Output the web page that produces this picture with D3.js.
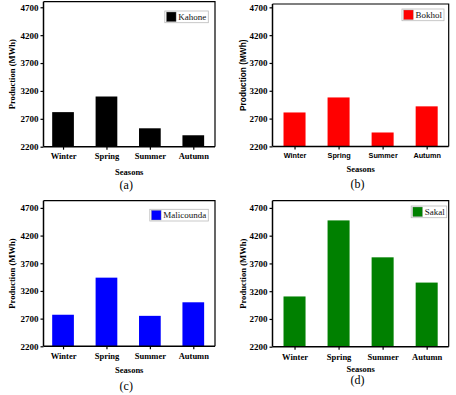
<!DOCTYPE html>
<html>
<head>
<meta charset="utf-8">
<script src="https://cdn.jsdelivr.net/npm/d3@7"></script>
<style>
  body { margin: 0; background: #fff; }
  svg { display: block; }
</style>
</head>
<body>
<div id="chart"></div>
<script>
// data
var seasons = ["Winter", "Spring", "Summer", "Autumn"];
var sites = ["Kahone", "Bokhol", "Malicounda", "Sakal"];
var kahone = [2820, 3100, 2530, 2405];
var bokhol = [2810, 3080, 2450, 2920];
var malicounda = [2770, 3440, 2750, 2995];
var sakal = [3105, 4475, 3810, 3355];
var yTicks = [2200, 2700, 3200, 3700, 4200, 4700];
var panelLabels = ["(a)", "(b)", "(c)", "(d)"];
var siteColors = ["#000000", "#ff0000", "#0000ff", "#008000"];
var seriesList = [kahone, bokhol, malicounda, sakal];

// layout of each panel (absolute pixels)
var serif = "'Liberation Serif', 'Times New Roman', serif";
var sans = "'Liberation Sans', Arial, sans-serif";
var panels = [
  {left: 43.5, right: 215, top: 1.7, bottom: 146.7, yMax: 4800, xDom: [0.55, 4.5],
   yLabelX: 11.7, tickDy: 9.5, titleDy: 25, capDy: 38.5, legR: 6.7, legT: 9.3, xFont: serif, yFont: serif},
  {left: 272.5, right: 448.7, top: 4, bottom: 146.4, yMax: 4760, xDom: [0.5, 4.5],
   yLabelX: 243, tickDy: 9.5, titleDy: 23, capDy: 37, legR: 4.7, legT: 5, xFont: sans, yFont: sans},
  {left: 43.5, right: 215, top: 200.7, bottom: 346.3, yMax: 4830, xDom: [0.55, 4.5],
   yLabelX: 12.3, tickDy: 10, titleDy: 23.7, capDy: 39.4, legR: 6.7, legT: 8.6, xFont: serif, yFont: serif},
  {left: 272.5, right: 448.7, top: 200.7, bottom: 346.7, yMax: 4830, xDom: [0.5, 4.5],
   yLabelX: 243, tickDy: 10.6, titleDy: 22, capDy: 33.5, legR: 2, legT: 5.3, xFont: serif, yFont: serif}
];

var width = 456;
var height = 395;

var svg = d3.select("#chart")
            .append("svg")
            .attr("width", width)
            .attr("height", height);

panels.forEach(function(p, i) {
  var values = seriesList[i];
  var color = siteColors[i];
  var g = svg.append("g");

  var xScale = d3.scaleLinear()
                 .domain(p.xDom)
                 .range([p.left, p.right]);
  var yScale = d3.scaleLinear()
                 .domain([2200, p.yMax])
                 .range([p.bottom, p.top]);
  var barW = xScale(1.25) - xScale(1);

  // bars
  g.selectAll(".bar")
   .data(values)
   .enter().append("rect")
   .attr("class", "bar")
   .attr("x", function(d, j) { return xScale(j + 1) - barW; })
   .attr("width", barW * 2)
   .attr("y", function(d) { return yScale(d); })
   .attr("height", function(d) { return yScale(2200) - yScale(d); })
   .attr("fill", color);

  // frame (top and right)
  g.append("path")
   .attr("d", "M" + p.left + "," + p.top + "H" + p.right + "V" + p.bottom)
   .attr("fill", "none")
   .attr("stroke", "#000")
   .attr("stroke-width", 1.2);

  // y axis
  var yAxis = d3.axisLeft(yScale)
                .tickValues(yTicks)
                .tickSize(3)
                .tickPadding(2)
                .tickFormat(d3.format("d"));
  var ya = g.append("g")
            .attr("transform", "translate(" + p.left + ",0)")
            .call(yAxis);
  ya.select(".domain").attr("stroke-width", 1.5).attr("d", "M0," + p.top + "V" + p.bottom);
  ya.selectAll(".tick line").attr("stroke-width", 1.2);
  ya.selectAll("text")
    .attr("font-family", serif)
    .attr("font-weight", "bold")
    .attr("font-size", 9)
    .attr("fill", "#000");

  // x axis
  var xAxis = d3.axisBottom(xScale)
                .tickValues([1, 2, 3, 4])
                .tickSize(3)
                .tickFormat(function(d) { return seasons[d - 1]; });
  var xa = g.append("g")
            .attr("transform", "translate(0," + p.bottom + ")")
            .call(xAxis);
  xa.select(".domain").attr("stroke-width", 1.5).attr("d", "M" + p.left + ",0H" + p.right);
  xa.selectAll(".tick line").attr("stroke-width", 1.2);
  xa.selectAll("text")
    .attr("y", p.tickDy)
    .attr("dy", "0.35em")
    .attr("font-family", p.xFont)
    .attr("font-weight", "bold")
    .attr("font-size", p.xFont === sans ? 7.3 : 8.5)
    .attr("fill", "#000");

  var cx = (p.left + p.right) / 2;
  // x title
  g.append("text")
   .text("Seasons")
   .attr("x", cx)
   .attr("y", p.bottom + p.titleDy)
   .attr("dy", "0.35em")
   .attr("text-anchor", "middle")
   .attr("font-family", serif)
   .attr("font-weight", "bold")
   .attr("font-size", 8.5);

  // panel caption
  g.append("text")
   .text(panelLabels[i])
   .attr("x", cx - 3)
   .attr("y", p.bottom + p.capDy)
   .attr("dy", "0.35em")
   .attr("text-anchor", "middle")
   .attr("font-family", serif)
   .attr("font-size", 12);

  // y title
  g.append("text")
   .text("Production (MWh)")
   .attr("transform", "translate(" + p.yLabelX + "," + ((p.top + p.bottom) / 2) + ") rotate(-90)")
   .attr("dy", "0.35em")
   .attr("text-anchor", "middle")
   .attr("font-family", p.yFont)
   .attr("font-weight", "bold")
   .attr("font-size", p.yFont === sans ? 8.3 : 8.6);

  // legend
  var leg = g.append("g");
  var legText = leg.append("text")
                   .text(sites[i])
                   .attr("font-family", serif)
                   .attr("font-size", 9)
                   .attr("fill", "#111");
  var tw = legText.node().getComputedTextLength();
  var boxW = 1.6 + 9.7 + 2.2 + tw + 2;
  var boxH = 11.7;
  var bx = p.right - p.legR - boxW;
  var by = p.top + p.legT;
  leg.insert("rect", "text")
     .attr("x", bx)
     .attr("y", by)
     .attr("width", boxW)
     .attr("height", boxH)
     .attr("fill", "#fff")
     .attr("stroke", "#bbb")
     .attr("stroke-width", 0.8);
  leg.insert("rect", "text")
     .attr("x", bx + 1.6)
     .attr("y", by + 1)
     .attr("width", 9.7)
     .attr("height", 9.7)
     .attr("fill", color)
     .attr("stroke", "#999")
     .attr("stroke-width", 0.4);
  legText.attr("x", bx + 1.6 + 9.7 + 2.2)
         .attr("y", by + boxH / 2)
         .attr("dy", "0.35em");
});
</script>
</body>
</html>
